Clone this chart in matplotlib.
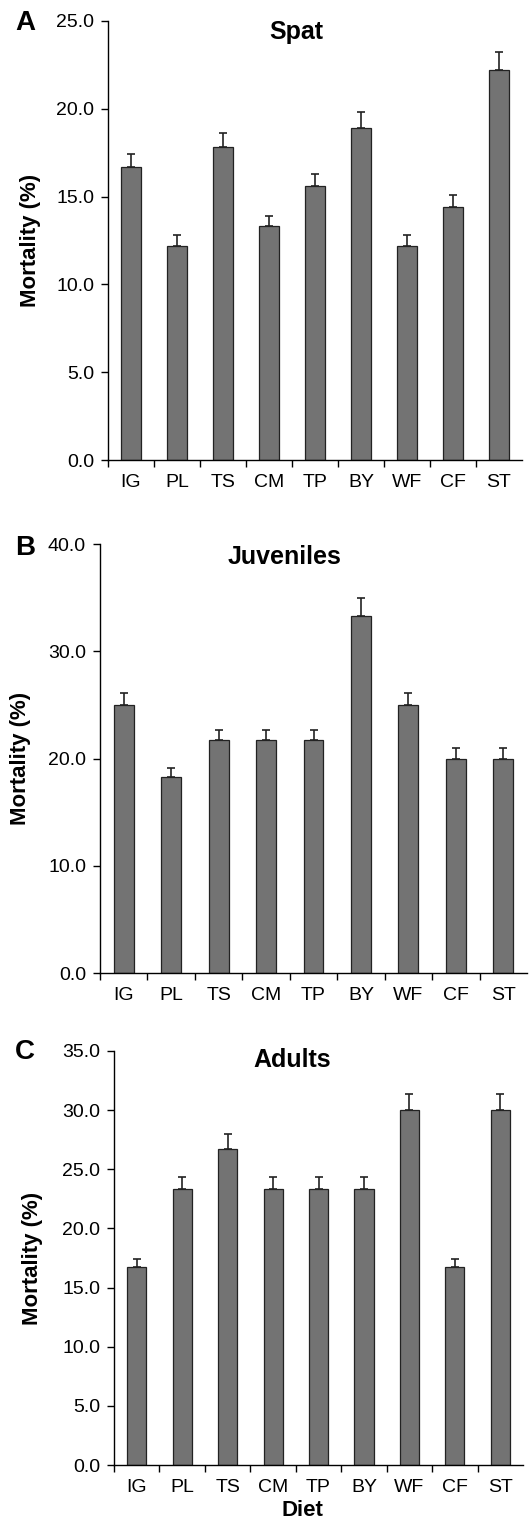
import matplotlib.pyplot as plt
import numpy as np
from matplotlib.ticker import FixedLocator, FormatStrFormatter

plt.rcParams['font.family'] = ['Liberation Sans', 'DejaVu Sans']

diets = ['IG', 'PL', 'TS', 'CM', 'TP', 'BY', 'WF', 'CF', 'ST']

# Mortality (%) and upper error (SE) per diet
spat = [16.7, 12.2, 17.8, 13.3, 15.6, 18.9, 12.2, 14.4, 22.2]
spat_err = [0.75, 0.6, 0.85, 0.6, 0.7, 0.9, 0.6, 0.7, 1.05]

juveniles = [25.0, 18.3, 21.7, 21.7, 21.7, 33.3, 25.0, 20.0, 20.0]
juveniles_err = [1.15, 0.8, 1.0, 1.0, 1.0, 1.65, 1.15, 0.95, 0.95]

adults = [16.7, 23.3, 26.7, 23.3, 23.3, 23.3, 30.0, 16.7, 30.0]
adults_err = [0.75, 1.05, 1.3, 1.05, 1.05, 1.05, 1.35, 0.75, 1.35]

panels = [
    # letter, title, values, errors, ymax, ystep, axes rect, title pos, ylabel x
    ('A', 'Spat', spat, spat_err, 25, 5, [0.2034, 0.6997, 0.7796, 0.2866], (0.454, 0.975), -0.188),
    ('B', 'Juveniles', juveniles, juveniles_err, 40, 10, [0.1883, 0.3647, 0.8042, 0.2802], (0.433, 0.970), -0.187),
    ('C', 'Adults', adults, adults_err, 35, 5, [0.2147, 0.0437, 0.7703, 0.2703], (0.435, 0.978), -0.200),
]
letter_y = [23, 548, 1052]

fig = plt.figure(figsize=(5.31, 15.32), dpi=100)
x = np.arange(len(diets))

for (letter, title, vals, errs, ymax, ystep, rect, tpos, ylx), ly in zip(panels, letter_y):
    ax = fig.add_axes(rect)
    ax.bar(x, vals, width=0.42, color='#737373', edgecolor='#222222', linewidth=0.9, zorder=2)
    ax.errorbar(x, vals, yerr=[np.zeros(len(vals)), errs], fmt='none',
                ecolor='#222222', elinewidth=1.2, capsize=3.2, capthick=1.2, zorder=3)
    ax.set_xlim(-0.5, 8.5)
    ax.set_ylim(0, ymax)
    ax.set_yticks(np.arange(0, ymax + 0.01, ystep))
    ax.yaxis.set_major_formatter(FormatStrFormatter('%.1f'))
    ax.set_xticks(x)
    ax.set_xticklabels(diets)
    ax.xaxis.set_minor_locator(FixedLocator(np.arange(-0.5, 8.0, 1.0)))
    ax.tick_params(axis='x', which='major', length=0, pad=10, labelsize=14)
    ax.tick_params(axis='x', which='minor', length=5, width=1, direction='out')
    ax.tick_params(axis='y', length=5, width=1, direction='out', pad=5, labelsize=14)
    for s in ['top', 'right']:
        ax.spines[s].set_visible(False)
    ax.spines['left'].set_linewidth(1)
    ax.spines['bottom'].set_linewidth(1)
    ax.set_ylabel('Mortality (%)', fontsize=16, fontweight='bold', va='center')
    ax.yaxis.set_label_coords(ylx, 0.5)
    ax.text(tpos[0], tpos[1], title, transform=ax.transAxes, ha='center', va='center',
            fontsize=18, fontweight='bold')
    fig.text(25 / 531, 1 - ly / 1532, letter, ha='center', va='center',
             fontsize=20, fontweight='bold')

fig.text(302 / 531, 1 - 1510 / 1532, 'Diet', ha='center', va='center',
         fontsize=16, fontweight='bold')

fig.savefig('out.png', dpi=100)
